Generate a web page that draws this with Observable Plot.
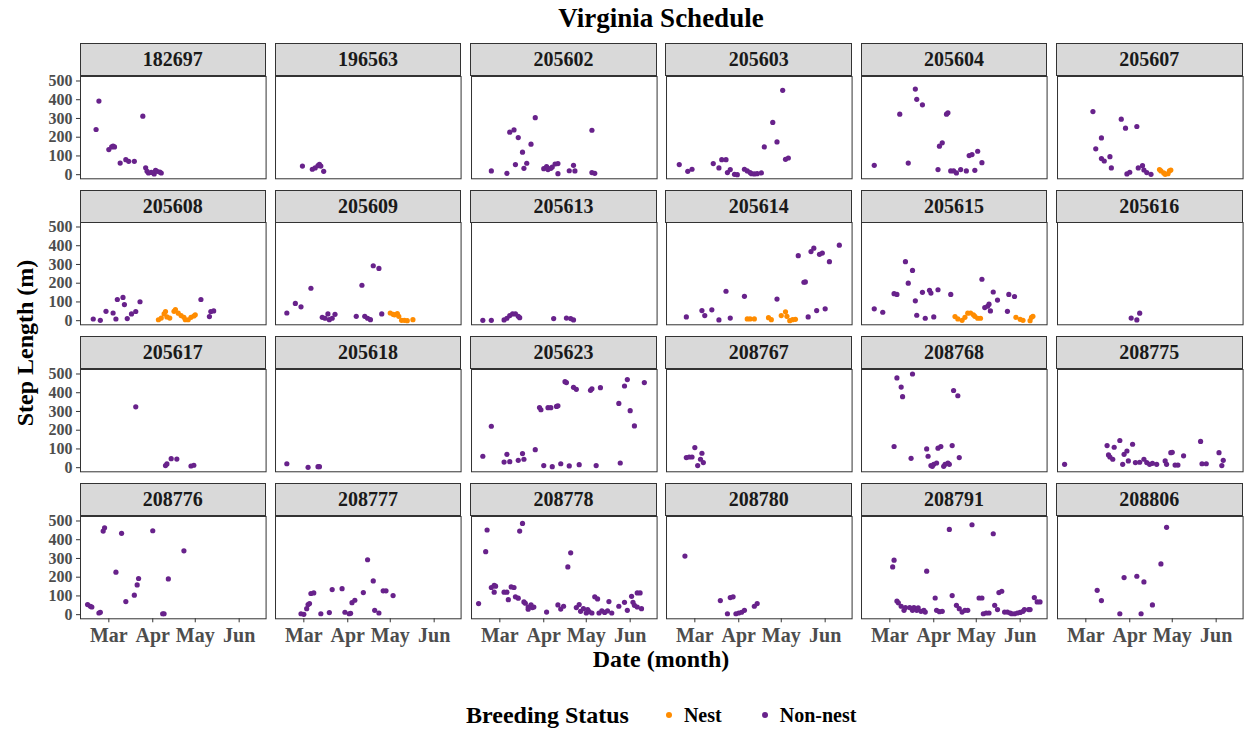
<!DOCTYPE html>
<html><head><meta charset="utf-8">
<script src="https://cdn.jsdelivr.net/npm/d3@7"></script>
<script src="https://cdn.jsdelivr.net/npm/@observablehq/plot@0.6"></script>
<style>
body{margin:0;background:#fff;}
#chart{position:relative;width:1247px;height:731px;font-family:"Liberation Serif","Times New Roman",serif;font-weight:bold;overflow:hidden;background:#fff;}
#chart svg{overflow:visible;max-width:none;display:block;}
#chart svg text{font-family:"Liberation Serif","Times New Roman",serif;font-weight:bold;font-size:16px;fill:#4d4d4d;}
#chart svg [aria-label^="x-axis"] text{font-size:20px;}
.panel{position:absolute;}
.strip{position:absolute;background:#d9d9d9;border:1px solid #333;box-sizing:border-box;text-align:center;color:#1a1a1a;font-size:20px;line-height:31px;}
.abs{position:absolute;white-space:nowrap;}
</style></head>
<body><div id="chart"></div>
<script>
// ---- data: [month-day, step length (m)] ; non-nest unless in a nest array ----
const YEAR = 2022;
const statusDomain = ["Nest", "Non-nest"];
const statusColors = ["#ff8c00", "#68228b"];
const birdIds = ["182697","196563","205602","205603","205604","205607","205608","205609","205613","205614","205615","205616","205617","205618","205623","208767","208768","208775","208776","208777","208778","208780","208791","208806"];
const monthTicks = ["03-01","04-01","05-01","06-01"];
const yTicks = [0,100,200,300,400,500];

const b182697 = [["02-20",241],["02-22",393],["03-01",134],["03-03",148],["03-04",152],["03-05",148],["03-09",62],["03-13",80],["03-15",71],["03-19",71],["03-25",312],["03-27",37],["03-28",18],["03-29",9],["03-31",12],["04-02",4],["04-03",23],["04-04",18],["04-06",14],["04-07",9]];
const b196563 = [["02-28",46],["03-07",29],["03-09",36],["03-11",48],["03-12",55],["03-13",46],["03-15",18]];
const b205602 = [["02-23",20],["03-06",7],["03-08",227],["03-11",239],["03-12",54],["03-14",198],["03-17",120],["03-18",34],["03-20",61],["03-23",163],["03-26",304],["04-01",32],["04-03",43],["04-04",27],["04-06",34],["04-07",41],["04-09",57],["04-11",5],["04-11",59],["04-19",21],["04-22",50],["04-23",20],["05-05",237],["05-05",11],["05-07",7]];
const b205603 = [["02-18",54],["02-24",18],["02-27",29],["03-14",59],["03-18",36],["03-20",80],["03-23",80],["03-24",11],["03-26",27],["03-29",2],["03-31",0],["04-05",29],["04-07",20],["04-09",11],["04-10",5],["04-12",4],["04-14",5],["04-17",9],["04-19",148],["04-25",279],["04-28",175],["05-02",450],["05-04",82],["05-06",89]];
const b205604 = [["02-18",50],["03-08",323],["03-14",62],["03-19",457],["03-20",402],["03-24",373],["04-04",27],["04-05",152],["04-07",170],["04-10",323],["04-11",330],["04-13",20],["04-15",20],["04-17",9],["04-20",27],["04-24",20],["04-26",102],["04-28",107],["04-30",23],["05-02",125],["05-05",64]];
const b205607 = [["03-06",337],["03-08",138],["03-12",196],["03-12",86],["03-14",73],["03-18",96],["03-19",36],["03-26",296],["03-29",248],["03-30",4],["04-01",13],["04-06",257],["04-07",36],["04-10",48],["04-11",25],["04-13",11],["04-16",2]];
const nest205607 = [["04-22",27],["04-23",20],["04-25",9],["04-26",2],["04-28",5],["04-29",20],["04-30",25]];
const b205608 = [["02-18",9],["02-23",2],["02-27",50],["03-04",41],["03-06",9],["03-07",113],["03-11",124],["03-12",86],["03-14",11],["03-17",36],["03-20",49],["03-23",101],["05-05",113],["05-11",22],["05-12",49],["05-14",52]];
const nest205608 = [["04-05",5],["04-07",14],["04-09",36],["04-10",49],["04-11",20],["04-13",14],["04-16",50],["04-17",59],["04-19",40],["04-21",27],["04-23",18],["04-24",5],["04-26",5],["04-28",18],["04-30",25],["05-01",31]];
const b205609 = [["02-17",41],["02-23",92],["02-27",74],["03-06",173],["03-14",18],["03-16",13],["03-18",36],["03-19",5],["03-21",13],["03-23",34],["04-07",23],["04-11",189],["04-13",23],["04-15",13],["04-17",5],["04-19",293],["04-23",279],["04-25",36]];
const nest205609 = [["05-01",41],["05-03",34],["05-04",31],["05-06",38],["05-07",23],["05-09",2],["05-11",2],["05-13",0],["05-17",5]];
const b205613 = [["02-17",2],["02-23",2],["03-04",4],["03-06",13],["03-08",27],["03-10",36],["03-12",36],["03-14",23],["03-15",16],["04-08",11],["04-17",14],["04-20",11],["04-22",4]];
const b205614 = [["02-23",20],["03-06",54],["03-08",27],["03-13",58],["03-18",4],["03-23",157],["03-26",14],["04-05",130],["04-28",115],["05-13",347],["05-17",205],["05-18",207],["05-20",20],["05-22",369],["05-24",387],["05-26",54],["05-28",354],["05-30",361],["06-01",63],["06-04",315],["06-11",403]];
const nest205614 = [["04-07",9],["04-09",9],["04-12",9],["04-22",16],["04-24",5],["05-01",27],["05-04",47],["05-05",23],["05-07",0],["05-09",5],["05-11",7]];
const b205615 = [["02-18",63],["02-24",45],["03-04",144],["03-06",140],["03-12",315],["03-14",200],["03-17",268],["03-19",106],["03-20",29],["03-24",151],["03-26",13],["03-29",162],["03-30",147],["04-01",20],["04-04",165],["04-13",140],["05-05",221],["05-07",70],["05-09",77],["05-10",88],["05-11",52],["05-13",153],["05-16",110],["05-23",50],["05-24",140],["05-28",129]];
const nest205615 = [["04-16",22],["04-18",9],["04-21",2],["04-23",18],["04-25",40],["04-27",41],["04-29",31],["04-30",23],["05-02",13],["05-04",13],["05-29",18],["06-01",7],["06-03",2],["06-08",0],["06-09",18],["06-10",23]];
const b205616 = [["04-02",14],["04-06",4],["04-08",40]];
const b205617 = [["03-20",325],["04-10",11],["04-11",20],["04-14",48],["04-18",46],["04-28",9],["04-30",13]];
const b205618 = [["02-17",21],["03-04",2],["03-11",5],["03-12",5]];
const b205623 = [["02-17",61],["02-23",221],["03-04",30],["03-06",71],["03-08",32],["03-14",39],["03-17",75],["03-18",45],["03-26",96],["03-29",321],["03-30",309],["04-01",11],["04-04",320],["04-06",320],["04-07",5],["04-10",327],["04-11",330],["04-13",21],["04-16",459],["04-17",454],["04-19",9],["04-22",429],["04-24",418],["04-26",16],["05-04",413],["05-05",421],["05-08",11],["05-11",427],["05-24",343],["05-25",25],["05-28",436],["05-30",470],["06-01",304],["06-04",223],["06-11",454]];
const b208767 = [["02-23",54],["02-25",57],["02-27",57],["03-01",107],["03-03",11],["03-05",45],["03-06",77],["03-07",27]];
const b208768 = [["03-04",113],["03-06",479],["03-09",430],["03-10",379],["03-16",50],["03-17",500],["03-27",100],["03-28",61],["03-30",11],["03-31",7],["04-01",18],["04-03",25],["04-04",104],["04-06",113],["04-08",7],["04-09",18],["04-11",25],["04-12",18],["04-14",118],["04-15",412],["04-18",384],["04-19",54]];
const b208775 = [["02-14",18],["03-16",118],["03-17",68],["03-18",57],["03-20",45],["03-21",109],["03-25",145],["03-27",18],["03-28",71],["03-30",89],["03-31",36],["04-03",125],["04-05",27],["04-08",29],["04-11",45],["04-13",27],["04-15",18],["04-17",23],["04-20",18],["04-26",36],["04-27",18],["04-30",80],["05-01",82],["05-03",14],["05-05",14],["05-09",63],["05-21",140],["05-22",21],["05-25",21],["06-03",80],["06-05",11],["06-06",39]];
const b208776 = [["02-14",54],["02-16",45],["02-17",41],["02-22",9],["02-23",13],["02-25",446],["02-26",464],["03-06",227],["03-10",434],["03-13",70],["03-19",104],["03-21",159],["03-22",193],["04-01",448],["04-08",5],["04-09",5],["04-12",191],["04-23",341]];
const b208777 = [["02-27",5],["03-01",2],["03-03",32],["03-04",54],["03-05",59],["03-06",113],["03-08",116],["03-13",5],["03-19",11],["03-21",134],["03-28",139],["03-30",13],["04-02",5],["04-03",7],["04-04",64],["04-06",77],["04-12",118],["04-15",293],["04-19",180],["04-20",23],["04-23",9],["04-26",127],["04-28",127],["05-03",102]];
const b208778 = [["02-14",59],["02-19",336],["02-20",452],["02-23",145],["02-25",157],["02-26",152],["02-25",120],["03-04",120],["03-06",120],["03-07",80],["03-09",148],["03-11",145],["03-12",95],["03-14",88],["03-15",446],["03-17",487],["03-18",68],["03-19",61],["03-21",29],["03-21",41],["03-23",52],["03-24",38],["03-25",41],["04-03",14],["04-11",52],["04-13",30],["04-15",45],["04-18",255],["04-20",330],["04-24",38],["04-26",54],["04-27",18],["04-29",32],["05-01",9],["05-02",27],["05-03",16],["05-05",9],["05-07",95],["05-09",84],["05-10",9],["05-12",20],["05-14",12],["05-16",20],["05-17",70],["05-19",9],["05-24",45],["05-28",66],["05-30",23],["06-02",98],["06-03",66],["06-04",50],["06-06",41],["06-06",116],["06-08",116],["06-09",32]];
const b208780 = [["02-22",313],["03-19",75],["03-24",5],["03-26",91],["03-28",95],["03-30",5],["04-01",9],["04-03",13],["04-05",23],["04-12",45],["04-14",59]];
const b208791 = [["03-03",255],["03-04",291],["03-06",73],["03-07",63],["03-09",45],["03-11",23],["03-12",38],["03-15",38],["03-17",23],["03-18",38],["03-20",23],["03-21",36],["03-23",18],["03-25",23],["03-26",14],["03-27",232],["04-02",89],["04-03",23],["04-05",16],["04-07",18],["04-12",455],["04-14",102],["04-17",50],["04-19",32],["04-21",14],["04-23",23],["04-25",23],["04-28",480],["05-03",89],["05-05",89],["05-06",5],["05-08",9],["05-10",9],["05-13",432],["05-14",50],["05-16",27],["05-17",118],["05-19",125],["05-21",14],["05-23",14],["05-25",9],["05-26",5],["05-28",5],["05-30",9],["06-01",12],["06-03",18],["06-04",27],["06-07",27],["06-08",27],["06-11",91],["06-13",68],["06-15",68]];
const b208806 = [["03-09",130],["03-12",75],["03-25",5],["03-28",198],["04-06",205],["04-09",5],["04-11",175],["04-17",52],["04-23",271],["04-27",466]];

const nonNestSets = [b182697,b196563,b205602,b205603,b205604,b205607,b205608,b205609,b205613,b205614,b205615,b205616,b205617,b205618,b205623,b208767,b208768,b208775,b208776,b208777,b208778,b208780,b208791,b208806];
const nestSets = {"205607": nest205607, "205608": nest205608, "205609": nest205609, "205614": nest205614, "205615": nest205615};

// ---- helpers & layout ----
const toDate = s => { const [m, d] = s.split("-").map(Number); return new Date(Date.UTC(YEAR, m - 1, d)); };
const xDomain = [toDate("02-09"), toDate("06-20")];
const yDomain = [-22, 524];
const NCOL = 6;
const PX0 = 80, PXSTEP = 195.3, PW = 185.6;
const PY0 = 75.5, PYSTEP = 146.7, PH = 102.3, STRIP = 33;

const chart = document.getElementById("chart");
function addDiv(cls, text, css) {
  const d = document.createElement("div");
  d.className = cls; d.textContent = text; Object.assign(d.style, css); chart.appendChild(d); return d;
}

birdIds.forEach((id, i) => {
  const col = i % NCOL, row = Math.floor(i / NCOL);
  const x0 = PX0 + col * PXSTEP, y0 = PY0 + row * PYSTEP;
  const data = [
    ...nonNestSets[i].map(([d, v]) => ({date: toDate(d), len: v, status: "Non-nest"})),
    ...(nestSets[id] || []).map(([d, v]) => ({date: toDate(d), len: v, status: "Nest"}))
  ];
  const ML = col === 0 ? 60 : 2, MR = 2, MT = 2, MB = row === 3 ? 45 : 2;
  const svg = Plot.plot({
    width: PW + ML + MR, height: PH + MT + MB,
    marginLeft: ML, marginRight: MR, marginTop: MT, marginBottom: MB,
    style: {background: "transparent", color: "#333333", overflow: "visible"},
    x: {type: "utc", domain: xDomain, ticks: monthTicks.map(toDate), tickFormat: d3.utcFormat("%b"),
        tickSize: 4, tickPadding: 5, axis: row === 3 ? "bottom" : null, label: null},
    y: {domain: yDomain, ticks: yTicks, tickSize: 4, tickPadding: 4,
        axis: col === 0 ? "left" : null, label: null},
    color: {domain: statusDomain, range: statusColors},
    marks: [
      Plot.dot(data, {x: "date", y: "len", fill: "status", r: 2.6}),
      Plot.frame({stroke: "#333333", strokeWidth: 1})
    ]
  });
  const wrap = document.createElement("div");
  wrap.className = "panel";
  Object.assign(wrap.style, {left: (x0 - ML) + "px", top: (y0 - MT) + "px", width: (PW + ML + MR) + "px"});
  wrap.appendChild(svg);
  chart.appendChild(wrap);
  addDiv("strip", id, {left: (x0 - 0.5) + "px", top: (y0 - STRIP + 0.5) + "px", width: (PW + 1) + "px", height: STRIP + "px"});
});

// titles
addDiv("abs", "Virginia Schedule", {left: "80px", width: "1162px", top: "2px", textAlign: "center", fontSize: "27px", lineHeight: "32px", color: "#000"});
addDiv("abs", "Date (month)", {left: "80px", width: "1162px", top: "644px", textAlign: "center", fontSize: "24px", lineHeight: "30px", color: "#000"});
addDiv("abs", "Step Length (m)", {left: "-125px", width: "300px", top: "328px", textAlign: "center", fontSize: "24px", lineHeight: "30px", color: "#000", transform: "rotate(-90deg)"});

// legend
const leg = addDiv("abs", "", {left: "466px", top: "700px", height: "30px", display: "flex", alignItems: "center", color: "#000"});
const lt = document.createElement("span"); lt.textContent = "Breeding Status"; lt.style.fontSize = "24px"; lt.style.marginRight = "37px"; leg.appendChild(lt);
statusDomain.forEach((s, k) => {
  const dot = document.createElement("span");
  Object.assign(dot.style, {display: "inline-block", width: "6px", height: "6px", borderRadius: "50%", background: statusColors[k], marginRight: "12px"});
  leg.appendChild(dot);
  const t = document.createElement("span"); t.textContent = s; t.style.fontSize = "20px"; t.style.marginRight = k === 0 ? "40px" : "0"; leg.appendChild(t);
});
</script></body></html>
